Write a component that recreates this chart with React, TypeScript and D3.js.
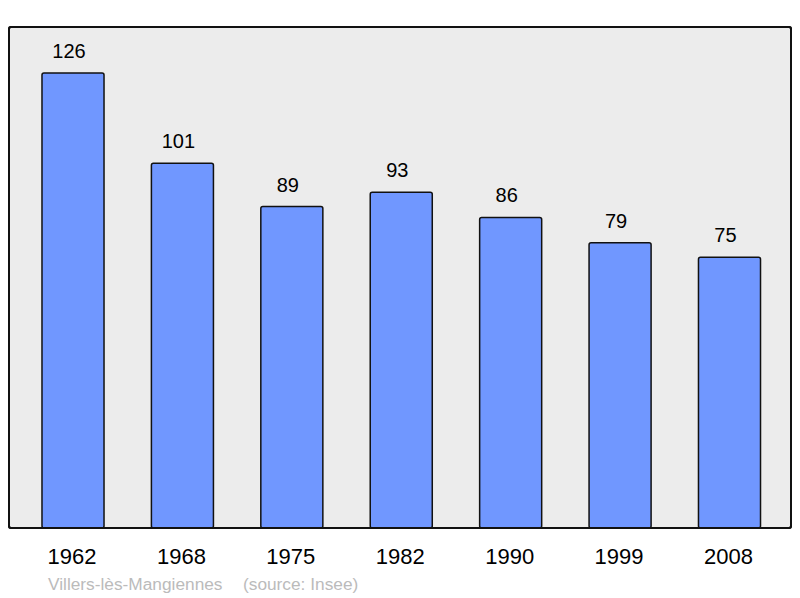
import React from "react";
import * as d3 from "d3";

const years = ["1962", "1968", "1975", "1982", "1990", "1999", "2008"];
const population = [126, 101, 89, 93, 86, 79, 75];
const footerName = "Villers-lès-Mangiennes";
const footerSource = "(source: Insee)";

export default function App() {
  const W = 800, H = 598;
  const panel = { x: 9, y: 27, w: 782, h: 501 };
  const x = d3.scaleBand<string>().domain(years).range([18.3, 784.2]).paddingInner(0.433).paddingOuter(0.2165);
  const y = d3.scaleLinear().domain([0, 126]).range([528, 73]);
  const font = "'Liberation Sans', Arial, sans-serif";
  return (
    <svg width={W} height={H} style={{ position: "absolute", left: 0, top: 0 }} fontFamily={font}>
      <rect x={panel.x} y={panel.y} width={panel.w} height={panel.h} rx={2} fill="#ececec" stroke="#111" strokeWidth={2} />
      {population.map((v, i) => {
        const bx = x(years[i])!;
        return (
          <g key={years[i]}>
            <rect x={bx} y={y(v)} width={x.bandwidth()} height={y(0) - y(v)} rx={2} fill="#7097ff" stroke="#111" strokeWidth={1.5} />
            <text x={bx + x.bandwidth() / 2 - 4} y={y(v) - 15} textAnchor="middle" fontSize={20} fill="#000">{v}</text>
          </g>
        );
      })}
      <rect x={panel.x} y={panel.y} width={panel.w} height={panel.h} rx={2} fill="none" stroke="#111" strokeWidth={2} />
      {years.map((yr) => (
        <text key={yr} x={x(yr)! + x.bandwidth() / 2 - 1} y={564} textAnchor="middle" fontSize={22} fill="#000">{yr}</text>
      ))}
      <text x={48} y={590} fontSize={17.3} fill="#bbb">{footerName}</text>
      <text x={243} y={590} fontSize={17.3} fill="#bbb">{footerSource}</text>
    </svg>
  );
}
